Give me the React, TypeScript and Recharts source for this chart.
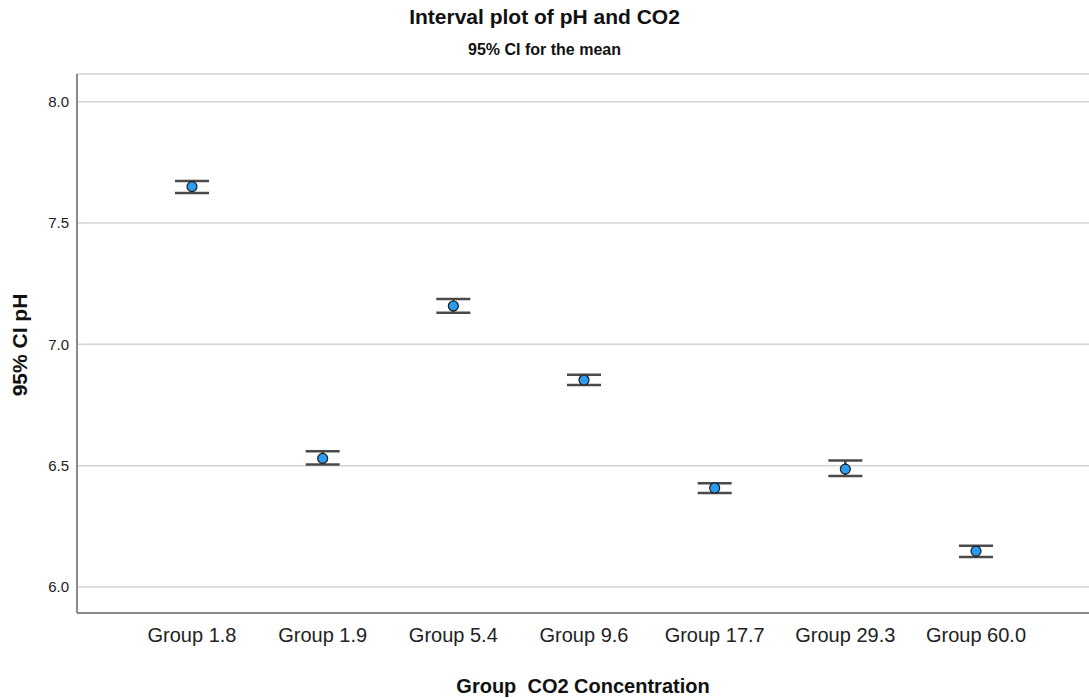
import { LineChart, Line, XAxis, YAxis, CartesianGrid, ErrorBar } from 'recharts';

const groups = ['Group 1.8', 'Group 1.9', 'Group 5.4', 'Group 9.6', 'Group 17.7', 'Group 29.3', 'Group 60.0'];
const means = [7.650, 6.530, 7.158, 6.853, 6.408, 6.486, 6.148];
const lower = [7.624, 6.505, 7.130, 6.832, 6.387, 6.458, 6.124];
const upper = [7.673, 6.559, 7.187, 6.875, 6.428, 6.521, 6.170];
const yTicks = [6.0, 6.5, 7.0, 7.5, 8.0];

const data = groups.map((g, i) => ({
  group: g,
  mean: means[i],
  ci: [means[i] - lower[i], upper[i] - means[i]],
}));

const FONT = '"Liberation Sans", Arial, sans-serif';

export default function App() {
  return (
    <div style={{ position: 'absolute', left: 0, top: 0, width: 1089, height: 698, background: '#fff', fontFamily: FONT }}>
      <div style={{ position: 'absolute', top: 5, left: 0, width: 1089, textAlign: 'center', fontWeight: 700, fontSize: 21, color: '#111' }}>
        Interval plot of pH and CO2
      </div>
      <div style={{ position: 'absolute', top: 41, left: 0, width: 1089, textAlign: 'center', fontWeight: 700, fontSize: 16, color: '#111' }}>
        95% CI for the mean
      </div>
      <div
        style={{
          position: 'absolute', left: 20, top: 345, transform: 'translate(-50%, -50%) rotate(-90deg)',
          whiteSpace: 'nowrap', fontWeight: 700, fontSize: 21, color: '#111',
        }}
      >
        95% CI pH
      </div>
      <div style={{ position: 'absolute', top: 675, left: 77, width: 1012, textAlign: 'center', fontWeight: 700, fontSize: 20, color: '#111', whiteSpace: 'pre' }}>
        Group  CO2 Concentration
      </div>
      <LineChart width={1089} height={698} data={data} margin={{ top: 74, right: 0, bottom: 55, left: 0 }}>
        <CartesianGrid horizontal vertical={false} stroke="#d4d4d4" strokeWidth={1.5} />
        <XAxis
          dataKey="group"
          height={30}
          padding={{ left: 115, right: 113 }}
          tickLine={false}
          tickSize={0}
          tickMargin={15}
          stroke="#8a8a8a"
          strokeWidth={2}
          tick={{ fill: '#222', fontSize: 20, fontFamily: FONT }}
          interval={0}
        />
        <YAxis
          width={77}
          domain={[5.893, 8.114]}
          ticks={yTicks}
          tickFormatter={(v: number) => v.toFixed(1)}
          tickLine={false}
          tickSize={0}
          tickMargin={8}
          stroke="#8a8a8a"
          strokeWidth={2}
          tick={{ fill: '#222', fontSize: 15, fontFamily: FONT }}
        />
        <Line
          dataKey="mean"
          stroke="none"
          isAnimationActive={false}
          dot={{ r: 5, fill: '#2b9cf0', stroke: '#1a1a1a', strokeWidth: 1.2 }}
          activeDot={false}
        >
          <ErrorBar dataKey="ci" width={17} stroke="#4a4a4a" strokeWidth={2.5} direction="y" />
        </Line>
      </LineChart>
    </div>
  );
}
